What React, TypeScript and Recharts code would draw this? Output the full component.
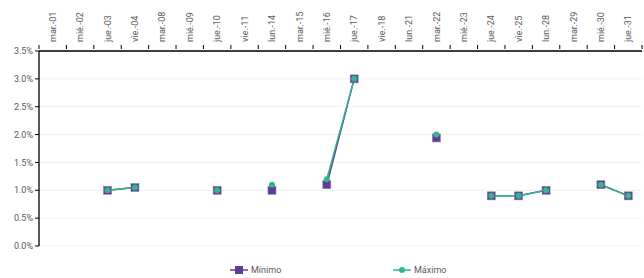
import { CartesianGrid, LineChart, Line, XAxis, YAxis } from "recharts";

const WIDTH = 644;
const HEIGHT = 278;
const PURPLE = "#5e3f8f";
const TEAL = "#33b68a";
const TEXT = "#595959";

const days = [
  "mar.-01", "mié.-02", "jue.-03", "vie.-04", "mar.-08", "mié.-09", "jue.-10", "vie.-11",
  "lun.-14", "mar.-15", "mié.-16", "jue.-17", "vie.-18", "lun.-21", "mar.-22", "mié.-23",
  "jue.-24", "vie.-25", "lun.-28", "mar.-29", "mié.-30", "jue.-31",
];

// values in %
const minimo = [
  null, null, 1.0, 1.05, null, null, 1.0, null,
  1.0, null, 1.1, 3.0, null, null, 1.94, null,
  0.9, 0.9, 1.0, null, 1.1, 0.9,
];
const maximo = [
  null, null, 1.0, 1.05, null, null, 1.0, null,
  1.1, null, 1.2, 3.0, null, null, 2.0, null,
  0.9, 0.9, 1.0, null, 1.1, 0.9,
];

const yTicks = [0, 0.5, 1.0, 1.5, 2.0, 2.5, 3.0, 3.5];

const data = days.map((d, i) => ({ day: d, min: minimo[i], max: maximo[i] }));

const LEFT = 39;
const RIGHT_MARGIN = 2;
const STEP = (WIDTH - LEFT - RIGHT_MARGIN) / days.length;

function DayTick({ x, y, payload, index }: any) {
  const last = index === days.length - 1;
  return (
    <g>
      <line x1={x - STEP / 2} x2={x - STEP / 2} y1={y} y2={y - 4} stroke="#000" strokeWidth={1} />
      {last && <line x1={x + STEP / 2} x2={x + STEP / 2} y1={y} y2={y - 4} stroke="#000" strokeWidth={1} />}
      <text
        x={x}
        y={y - 7}
        transform={`rotate(-90 ${x} ${y - 7})`}
        textAnchor="start"
        dy="0.35em"
        fontSize={9}
        fill={TEXT}
        fontFamily="Roboto, sans-serif"
      >
        {payload.value}
      </text>
    </g>
  );
}

function SquareDot({ cx, cy, index }: any) {
  if (cx == null || cy == null) return <g key={`s${index}`} />;
  return <rect key={`s${index}`} x={cx - 4} y={cy - 4} width={8} height={8} fill={PURPLE} stroke="#8f7bb0" strokeWidth={0.6} />;
}

function CircleDot({ cx, cy, index }: any) {
  if (cx == null || cy == null) return <g key={`c${index}`} />;
  return <circle key={`c${index}`} cx={cx} cy={cy} r={3} fill={TEAL} />;
}

function LegendRow() {
  const item = (x: number, label: string, color: string, square: boolean) => (
    <g transform={`translate(${x},0)`}>
      <line x1={0} x2={18} y1={8} y2={8} stroke={color} strokeWidth={1.5} />
      {square ? (
        <rect x={5} y={4} width={8} height={8} fill={color} />
      ) : (
        <circle cx={9} cy={8} r={3} fill={color} />
      )}
      <text x={21} y={8} dy="0.35em" fontSize={9} fill={TEXT} fontFamily="Roboto, sans-serif">
        {label}
      </text>
    </g>
  );
  return (
    <svg width={WIDTH} height={16} style={{ position: "absolute", left: 0, top: 262 }}>
      {item(230, "Mínimo", PURPLE, true)}
      {item(393, "Máximo", TEAL, false)}
    </svg>
  );
}

export default function App() {
  return (
    <div
      style={{
        position: "fixed",
        left: 0,
        top: 0,
        width: WIDTH,
        height: HEIGHT,
        overflow: "hidden",
        background: "#fff",
      }}
    >
      <LineChart
        width={WIDTH}
        height={HEIGHT}
        data={data}
        margin={{ top: 0, right: RIGHT_MARGIN, bottom: 32, left: 0 }}
      >
        <CartesianGrid vertical={false} stroke="#f0f0f0" />
        <XAxis
          dataKey="day"
          orientation="top"
          height={51}
          interval={0}
          tickSize={0}
          tickLine={false}
          tick={<DayTick />}
          padding={{ left: STEP / 2, right: STEP / 2 }}
          axisLine={{ stroke: "#000", strokeWidth: 1.3 }}
        />
        <YAxis
          width={LEFT}
          domain={[0, 3.5]}
          ticks={yTicks}
          tickFormatter={(v: number) => `${v.toFixed(1)}%`}
          tick={{ fontSize: 9, fill: TEXT, fontFamily: "Roboto, sans-serif" }}
          tickSize={4}
          tickLine={{ stroke: "#000" }}
          axisLine={{ stroke: "#000", strokeWidth: 1.3 }}
        />
        <Line
          dataKey="min"
          name="Mínimo"
          stroke={PURPLE}
          strokeWidth={1.5}
          dot={<SquareDot />}
          activeDot={false}
          isAnimationActive={false}
        />
        <Line
          dataKey="max"
          name="Máximo"
          stroke={TEAL}
          strokeWidth={1.5}
          dot={<CircleDot />}
          activeDot={false}
          isAnimationActive={false}
        />
      </LineChart>
      <LegendRow />
    </div>
  );
}
